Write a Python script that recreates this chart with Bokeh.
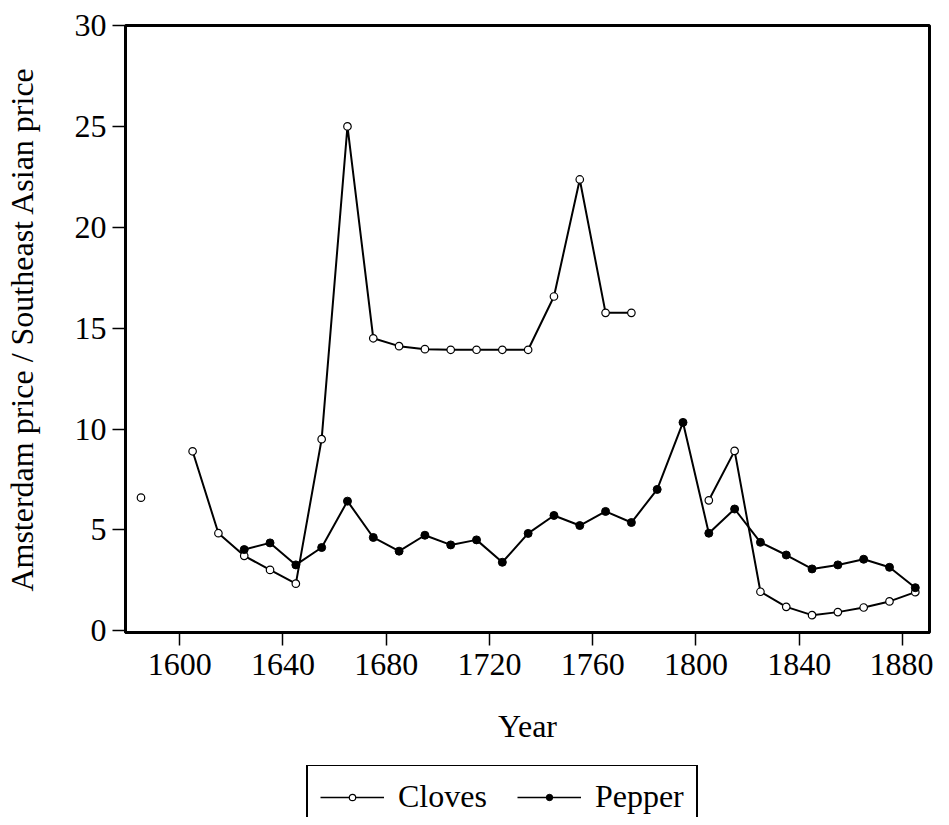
import numpy as np
from bokeh.plotting import figure
from bokeh.layouts import column
from bokeh.models import Legend, LegendItem, ColumnDataSource, FixedTicker, Range1d
from bokeh.embed import file_html
from bokeh.resources import INLINE

nan = float("nan")
years = [1585, 1595, 1605, 1615, 1625, 1635, 1645, 1655, 1665, 1675, 1685, 1695, 1705, 1715,
         1725, 1735, 1745, 1755, 1765, 1775, 1785, 1795, 1805, 1815, 1825, 1835, 1845, 1855,
         1865, 1875, 1885]
cloves = [6.6, nan, 8.9, 4.84, 3.72, 3.02, 2.34, 9.5, 25.0, 14.5, 14.11, 13.96, 13.93, 13.93,
          13.93, 13.93, 16.57, 22.37, 15.76, 15.76, nan, nan, 6.47, 8.92, 1.94, 1.19, 0.78, 0.93,
          1.16, 1.46, 1.92]
pepper = [nan, nan, nan, nan, 4.03, 4.36, 3.27, 4.13, 6.43, 4.63, 3.95, 4.74, 4.26, 4.51,
          3.40, 4.83, 5.72, 5.22, 5.92, 5.37, 7.01, 10.33, 4.84, 6.04, 4.39, 3.76, 3.07, 3.27,
          3.55, 3.15, 2.14]
x_ticks = [1600, 1640, 1680, 1720, 1760, 1800, 1840, 1880]
y_ticks = [0, 5, 10, 15, 20, 25, 30]

FONT = "Liberation Serif"
FS = "32px"

src = ColumnDataSource(dict(year=years, cloves=cloves, pepper=pepper))

# main chart
p = figure(width=933, height=765, output_backend="svg", toolbar_location=None,
           x_range=Range1d(1579, 1890.5), y_range=Range1d(-0.08, 30),
           min_border_left=119, min_border_right=4, min_border_top=25, min_border_bottom=133)

p.xgrid.visible = False
p.ygrid.visible = False
p.outline_line_color = "black"
p.outline_line_width = 3
p.outline_line_alpha = 1

p.line("year", "cloves", source=src, line_color="black", line_width=2)
p.scatter("year", "cloves", source=src, size=7.5, marker="circle",
          fill_color="white", line_color="black", line_width=1.2)
p.line("year", "pepper", source=src, line_color="black", line_width=2)
p.scatter("year", "pepper", source=src, size=8, marker="circle",
          fill_color="black", line_color="black", line_width=1)

for ax in (p.xaxis[0], p.yaxis[0]):
    ax.axis_line_width = 3
    ax.axis_line_color = "black"
    ax.major_tick_in = 0
    ax.major_tick_out = 13
    ax.major_tick_line_width = 1.5
    ax.major_tick_line_color = "black"
    ax.minor_tick_line_color = None
    ax.major_label_text_font = FONT
    ax.major_label_text_font_size = FS
    ax.major_label_text_color = "black"
    ax.axis_label_text_font = FONT
    ax.axis_label_text_font_size = FS
    ax.axis_label_text_font_style = "normal"
    ax.axis_label_text_color = "black"

p.xaxis[0].ticker = FixedTicker(ticks=x_ticks)
p.yaxis[0].ticker = FixedTicker(ticks=y_ticks)
p.xaxis[0].axis_label = "Year"
p.yaxis[0].axis_label = "Amsterdam price / Southeast Asian price"
p.xaxis[0].major_label_standoff = 8
p.yaxis[0].major_label_standoff = 6
p.xaxis[0].axis_label_standoff = 30
p.yaxis[0].axis_label_standoff = 32

# legend strip below the chart (legend box runs past the bottom edge, as in the original)
leg_src = ColumnDataSource(dict(year=[nan], cloves=[nan], pepper=[nan]))
q = figure(width=933, height=52, output_backend="svg", toolbar_location=None,
           x_axis_type=None, y_axis_type=None, x_range=p.x_range, y_range=p.y_range,
           min_border_left=24, min_border_right=0, min_border_top=0, min_border_bottom=0)
q.outline_line_color = None
lc = q.line("year", "cloves", source=leg_src, line_color="black", line_width=1.5)
sc = q.scatter("year", "cloves", source=leg_src, marker="circle",
               fill_color="white", line_color="black", line_width=1.2)
lp = q.line("year", "pepper", source=leg_src, line_color="black", line_width=1.5)
sp = q.scatter("year", "pepper", source=leg_src, marker="circle",
               fill_color="black", line_color="black", line_width=1)

legend = Legend(items=[LegendItem(label="Cloves", renderers=[lc, sc]),
                       LegendItem(label="Pepper", renderers=[lp, sp])],
                orientation="horizontal", location=(181, -12),
                label_text_font=FONT, label_text_font_size=FS, label_text_color="black",
                glyph_width=64, glyph_height=16, label_height=16, label_standoff=14,
                spacing=30, padding=12, margin=0,
                border_line_color="black", border_line_width=2, border_line_alpha=1,
                background_fill_alpha=0)
q.add_layout(legend, "center")

layout = column(p, q, spacing=0)
open("out.html", "w").write(file_html(layout, INLINE))
